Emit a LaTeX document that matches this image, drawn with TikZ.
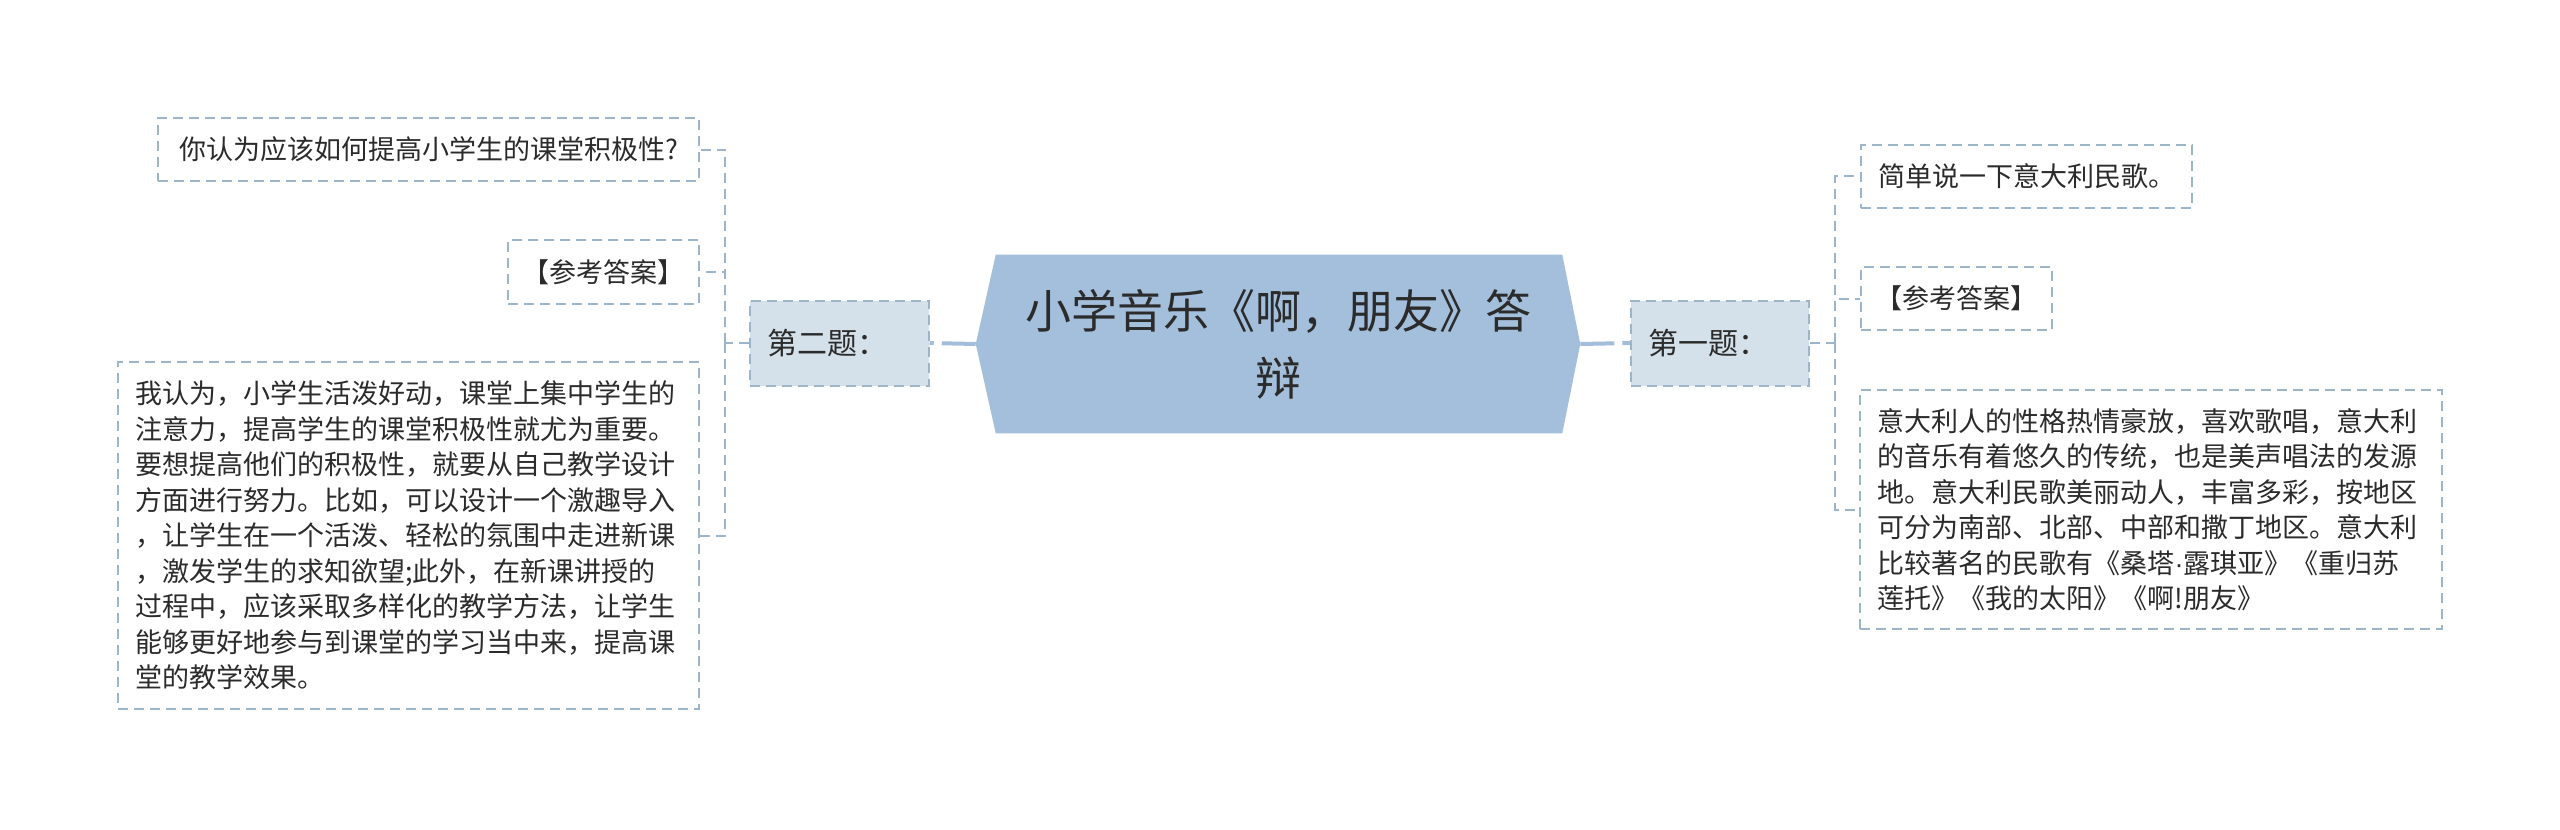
\documentclass[tikz,border=0pt]{standalone}
\usepackage{fontspec}
\setmainfont{Noto Sans CJK SC}
\newfontfamily\latinfont{Liberation Sans}
\usetikzlibrary{calc}
\definecolor{hubc}{HTML}{A3BFDB}
\definecolor{subc}{HTML}{D4E0EA}
\definecolor{bordc}{HTML}{9DB5CB}
\definecolor{linec}{HTML}{A3BEDA}
\definecolor{txtc}{HTML}{2B2B2B}
\pgfdeclarelayer{bg}
\pgfdeclarelayer{canvas}
\pgfsetlayers{canvas,bg,main}
\begin{document}
\begin{tikzpicture}[x=0.75pt,y=-0.75pt,
  leafbox/.style={draw=bordc,line width=1.5pt,dash pattern=on 7.5pt off 4.5pt,fill=white,text=txtc,font=\fontsize{20.25}{26.6}\selectfont,inner sep=0pt,align=center},
  leaftext/.style={leafbox,align=left,text width=410pt},
  topicbox/.style={leafbox,fill=subc,font=\fontsize{22.5}{28}\selectfont,align=left,text width=107.25pt},
  hubbox/.style={text=txtc,font=\fontsize{34.5}{50}\selectfont,align=center,inner sep=0pt,minimum width=453pt,minimum height=133.5pt},
  mainline/.style={linec,line width=3pt,dash pattern=on 25.5pt off 6pt on 40pt off 1pt},
  treeline/.style={bordc,line width=1.5pt,dash pattern=on 7.5pt off 4.5pt}]
\begin{pgfonlayer}{canvas}
\fill[white] (0,0) rectangle (2560,829);
\end{pgfonlayer}
\useasboundingbox (0,0) rectangle (2560,829);

% central topic
\node[hubbox] (hub) at (1278,344) {小学音乐《啊，朋友》答\\辩};
\begin{pgfonlayer}{bg}
\fill[hubc] (hub.west) -- ([xshift=15pt]hub.north west) -- ([xshift=-13.5pt]hub.north east) -- (hub.east) -- ([xshift=-13.5pt]hub.south east) -- ([xshift=15pt]hub.south west) -- cycle;
\end{pgfonlayer}

% main topics
\node[topicbox,minimum width=134.25pt,minimum height=63.75pt] (t2) at (839,343) {第二题：};
\node[topicbox,minimum width=133.5pt,minimum height=63.75pt] (t1) at (1720,343) {第一题：};

% left leaves
\node[leafbox,minimum width=405.75pt,minimum height=47.25pt] (q2) at (428.5,149.5) {你认为应该如何提高小学生的课堂积极性?};
\node[leafbox,minimum width=143.25pt,minimum height=48pt] (a2h) at (603.5,272) {【参考答案】};
\node[leaftext,minimum width=435.75pt,minimum height=260.25pt] (a2) at (408.5,535.5) {我认为，小学生活泼好动，课堂上集中学生的\\注意力，提高学生的课堂积极性就尤为重要。\\要想提高他们的积极性，就要从自己教学设计\\方面进行努力。比如，可以设计一个激趣导入\\，让学生在一个活泼、轻松的氛围中走进新课\\，激发学生的求知欲望;此外，在新课讲授的\\过程中，应该采取多样化的教学方法，让学生\\能够更好地参与到课堂的学习当中来，提高课\\堂的教学效果。};

% right leaves
\node[leafbox,minimum width=248.25pt,minimum height=47.25pt] (q1) at (2026.5,176) {简单说一下意大利民歌。};
\node[leafbox,minimum width=143.25pt,minimum height=47.25pt] (a1h) at (1956.5,298.5) {【参考答案】};
\node[leaftext,minimum width=436.5pt,minimum height=179.25pt] (a1) at (2151,509.5) {意大利人的性格热情豪放，喜欢歌唱，意大利\\的音乐有着悠久的传统，也是美声唱法的发源\\地。意大利民歌美丽动人，丰富多彩，按地区\\可分为南部、北部、中部和撒丁地区。意大利\\比较著名的民歌有《桑塔{\latinfont ·}露琪亚》《重归苏\\莲托》《我的太阳》《啊!朋友》};

% connectors
\begin{pgfonlayer}{bg}
\draw[mainline] (hub.west) -- (t2.east);
\draw[mainline] (hub.east) -- (t1.west);
\coordinate (lsp) at (725,343);
\coordinate (rsp) at (1835,343);
\draw[treeline] (t2.west) -- (lsp);
\draw[treeline] (lsp) |- (q2.east);
\draw[treeline] (lsp) |- (a2h.east);
\draw[treeline] (lsp) |- (a2.east);
\draw[treeline] (t1.east) -- (rsp);
\draw[treeline] (rsp) |- (q1.west);
\draw[treeline] (rsp) |- (a1h.west);
\draw[treeline] (rsp) |- (a1.west);
\end{pgfonlayer}
\end{tikzpicture}
\end{document}
